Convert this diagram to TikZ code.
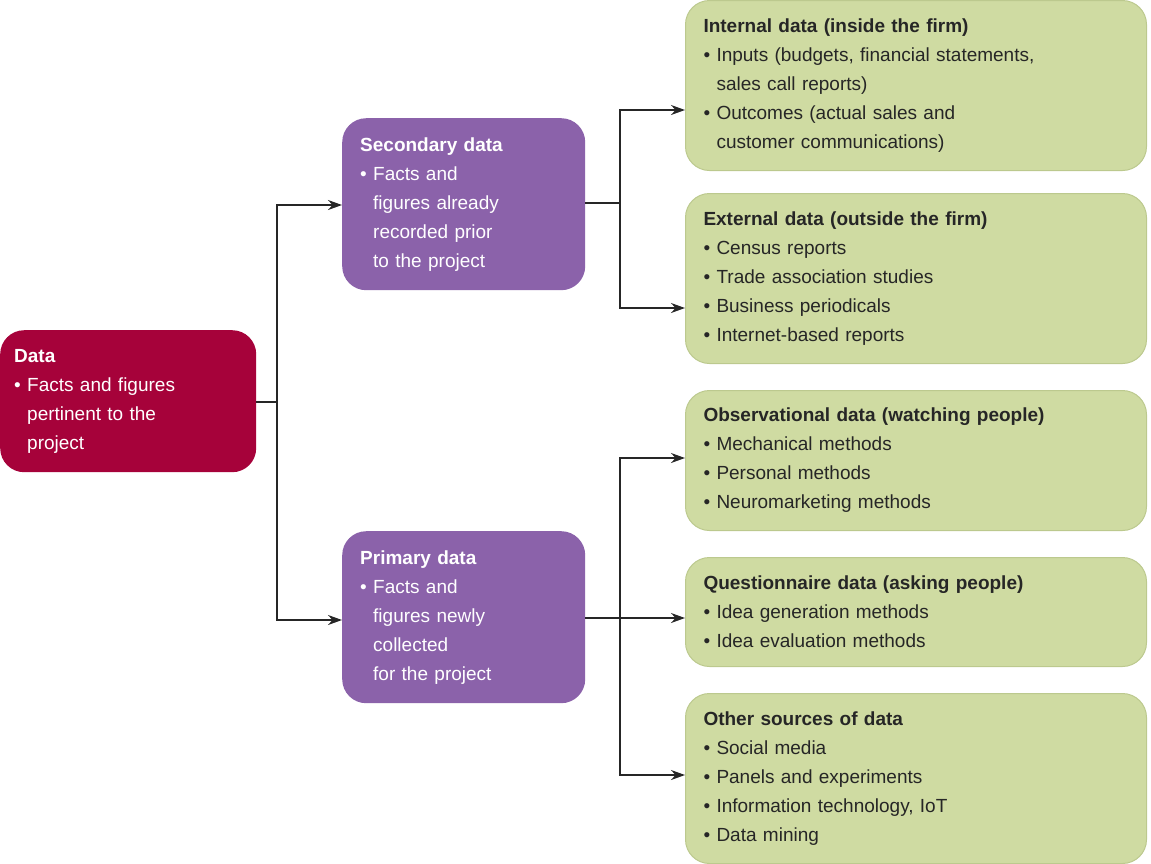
\documentclass[tikz,border=0pt]{standalone}
\usepackage{fontspec}
\setmainfont{Liberation Sans}
\usetikzlibrary{arrows.meta}
\definecolor{dred}{HTML}{A6023A}
\definecolor{purp}{HTML}{8B62AA}
\definecolor{grn}{HTML}{CFDBA2}
\definecolor{grnb}{HTML}{BCC98E}
\newcommand{\bl}{\makebox[13pt][l]{\textbullet}}
\newcommand{\ind}{\hspace*{13pt}}
\begin{document}
\begin{tikzpicture}[x=1pt,y=-1pt,
  box/.style={rounded corners=24pt,anchor=north west,align=left,inner xsep=18pt,
    font=\fontsize{19}{29}\selectfont},
  gbox/.style={box,fill=grn,draw=grnb,line width=1pt,text=black!85,minimum width=461pt,text width=425pt},
  pbox/.style={box,fill=purp,text=white,minimum width=243pt,text width=207pt},
  rbox/.style={box,fill=dred,text=white,minimum width=243pt,text width=228pt,inner xsep=14pt},
  conn/.style={line width=1.6pt,black!85},
  arr/.style={conn,-{Stealth[length=14pt,width=10pt]}}]
\useasboundingbox (0,0) rectangle (1151,863);
\node[rbox,minimum height=142pt] (data) at (0,330) {\textbf{Data}\\\bl Facts and figures\\\ind pertinent to the\\\ind project};
\node[pbox,minimum height=172pt] (sec) at (342,118) {\textbf{Secondary data}\\\bl Facts and\\\ind figures already\\\ind recorded prior\\\ind to the project};
\node[pbox,minimum height=172pt] (pri) at (342,531) {\textbf{Primary data}\\\bl Facts and\\\ind figures newly\\\ind collected\\\ind for the project};
\node[gbox,minimum height=170pt] (int) at (685,0) {\textbf{Internal data (inside the firm)}\\\bl Inputs (budgets, financial statements,\\\ind sales call reports)\\\bl Outcomes (actual sales and\\\ind customer communications)};
\node[gbox,minimum height=170pt] (ext) at (685,193) {\textbf{External data (outside the firm)}\\\bl Census reports\\\bl Trade association studies\\\bl Business periodicals\\\bl Internet-based reports};
\node[gbox,minimum height=140pt] (obs) at (685,390) {\textbf{Observational data (watching people)}\\\bl Mechanical methods\\\bl Personal methods\\\bl Neuromarketing methods};
\node[gbox,minimum height=109pt] (que) at (685,557) {\textbf{Questionnaire data (asking people)}\\\bl Idea generation methods\\\bl Idea evaluation methods};
\node[gbox,minimum height=170pt] (oth) at (685,693) {\textbf{Other sources of data}\\\bl Social media\\\bl Panels and experiments\\\bl Information technology, IoT\\\bl Data mining};
\coordinate (j1) at (277,402);
\coordinate (j2) at (620,203);
\coordinate (j3) at (620,618);
\draw[conn] (data.east|-j1) -- (j1);
\draw[arr] (j1) |- (sec.west|-0,205);
\draw[arr] (j1) |- (pri.west|-0,620);
\draw[conn] (sec.east|-j2) -- (j2);
\draw[arr] (j2) |- (int.west|-0,110);
\draw[arr] (j2) |- (ext.west|-0,308);
\draw[conn] (pri.east|-j3) -- (j3);
\draw[arr] (j3) |- (obs.west|-0,458);
\draw[arr] (j3) -- (que.west|-j3);
\draw[arr] (j3) |- (oth.west|-0,775);
\end{tikzpicture}
\end{document}
